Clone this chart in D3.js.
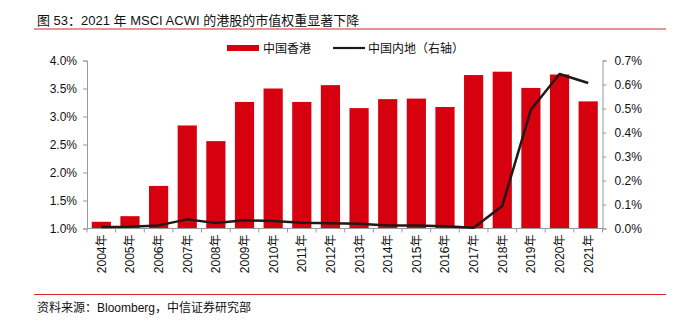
<!DOCTYPE html>
<html><head><meta charset="utf-8">
<script src="https://cdn.jsdelivr.net/npm/d3@7"></script>
<style>body{margin:0;background:#fff;}svg{display:block;font-family:"Liberation Sans","Noto Sans CJK SC",sans-serif;}</style>
</head><body>
<svg id="c" width="674" height="322"></svg>
<script>
const years = ["2004年","2005年","2006年","2007年","2008年","2009年","2010年","2011年","2012年","2013年","2014年","2015年","2016年","2017年","2018年","2019年","2020年","2021年"];
const hongKong = [1.12,1.22,1.76,2.84,2.56,3.26,3.50,3.26,3.56,3.15,3.31,3.32,3.17,3.74,3.80,3.51,3.75,3.27];
const mainland = [0.006,0.007,0.013,0.038,0.023,0.034,0.031,0.024,0.022,0.020,0.012,0.013,0.009,0.003,0.094,0.495,0.644,0.606];
const leftTicks = [1.0,1.5,2.0,2.5,3.0,3.5,4.0];
const rightTicks = [0.0,0.1,0.2,0.3,0.4,0.5,0.6,0.7];
const title = "图 53：2021 年 MSCI ACWI 的港股的市值权重显著下降";
const source = "资料来源：Bloomberg，中信证券研究部";
const legendNames = ["中国香港","中国内地（右轴）"];

const svg = d3.select("#c");
const red = "#d7000f", dark = "#231815", axisCol = "#999";
const L = 87, R = 602.5, T = 60.5, B = 228.5;

const x = d3.scaleBand().domain(years).range([L, R]).paddingInner(0.33).paddingOuter(0.165);
const yL = d3.scaleLinear().domain([1.0, 4.0]).range([B, T]);
const yR = d3.scaleLinear().domain([0.0, 0.7]).range([B, T]);

// title
svg.append("text").attr("x", 37).attr("y", 24.5).attr("font-size", 13).attr("fill", "#111").text(title);
svg.append("line").attr("x1", 34).attr("x2", 666).attr("y1", 29).attr("y2", 29).attr("stroke", "#d9262c").attr("stroke-width", 1.2);
svg.append("line").attr("x1", 34).attr("x2", 666).attr("y1", 294.5).attr("y2", 294.5).attr("stroke", "#d9262c").attr("stroke-width", 1.2);
svg.append("text").attr("x", 37).attr("y", 312).attr("font-size", 12).attr("fill", "#111").text(source);

// legend
svg.append("rect").attr("x", 227).attr("y", 45).attr("width", 32).attr("height", 6).attr("fill", red);
svg.append("text").attr("x", 263).attr("y", 52.5).attr("font-size", 12).attr("fill", "#111").text(legendNames[0]);
svg.append("line").attr("x1", 333).attr("x2", 365).attr("y1", 48).attr("y2", 48).attr("stroke", dark).attr("stroke-width", 2.2);
svg.append("text").attr("x", 368).attr("y", 52.5).attr("font-size", 12).attr("fill", "#111").text(legendNames[1]);

// bars
svg.append("g").selectAll("rect").data(years).join("rect")
  .attr("x", d => x(d)).attr("width", x.bandwidth())
  .attr("y", (d, i) => yL(hongKong[i])).attr("height", (d, i) => B - yL(hongKong[i]))
  .attr("fill", red);

// axes
const fmtL = d => d.toFixed(1) + "%";
const gl = svg.append("g").attr("transform", `translate(${L},0)`)
  .call(d3.axisLeft(yL).tickValues(leftTicks).tickFormat(fmtL).tickSize(4).tickPadding(6));
const gr = svg.append("g").attr("transform", `translate(${R},0)`)
  .call(d3.axisRight(yR).tickValues(rightTicks).tickFormat(fmtL).tickSize(4).tickPadding(8));
[gl, gr].forEach(g => {
  g.select(".domain").attr("stroke", axisCol);
  g.selectAll(".tick line").attr("stroke", axisCol);
  g.selectAll(".tick text").attr("font-size", 12).attr("fill", "#111");
});

// x axis
const gx = svg.append("g");
gx.append("line").attr("x1", L).attr("x2", R).attr("y1", B).attr("y2", B).attr("stroke", axisCol);
const step = x.step();
const bounds = d3.range(years.length + 1).map(i => L + i * step);
gx.selectAll(".tk").data(bounds).join("line").attr("class", "tk")
  .attr("x1", d => d).attr("x2", d => d).attr("y1", B).attr("y2", B + 4).attr("stroke", axisCol);
gx.selectAll("text").data(years).join("text")
  .attr("transform", d => `translate(${x(d) + x.bandwidth() / 2 + 4.5},${B + 6}) rotate(-90)`)
  .attr("text-anchor", "end").attr("font-size", 12).attr("fill", "#111").text(d => d);

// line
const line = d3.line().x((d, i) => x(years[i]) + x.bandwidth() / 2).y(d => yR(d)).curve(d3.curveLinear);
svg.append("path").datum(mainland).attr("d", line).attr("fill", "none").attr("stroke", dark)
  .attr("stroke-width", 2.5).attr("stroke-linejoin", "round");
</script>
</body></html>
